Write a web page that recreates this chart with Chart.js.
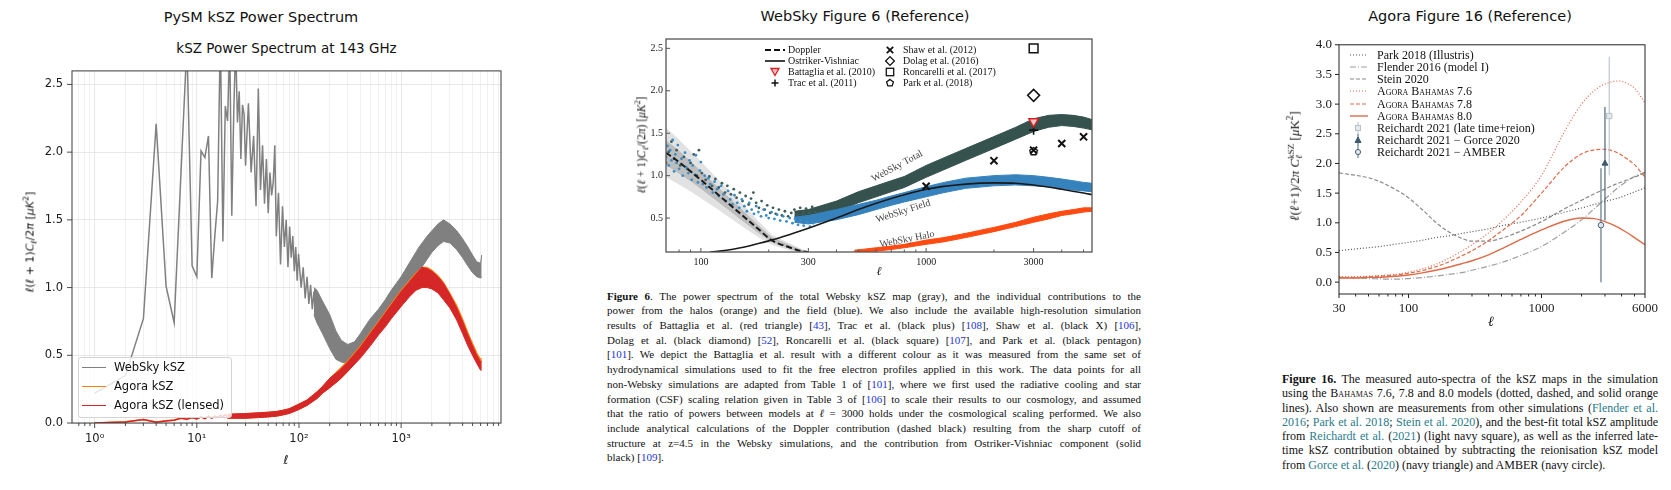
<!DOCTYPE html>
<html lang="en">
<head>
<meta charset="UTF-8" />
<title>kSZ power spectra</title>
<script src="https://cdn.jsdelivr.net/npm/chart.js"></script>
<style>
  body { margin: 0; width: 1671px; height: 490px; background: #fff; position: relative; overflow: hidden;
         font-family: "DejaVu Sans", sans-serif; color: #111; }
  .box { position: absolute; }
  .t { position: absolute; white-space: nowrap; line-height: 1; }
  .c { transform: translate(-50%, -50%); }
  .v { transform: translateY(-50%); }
  .rot { transform: translate(-50%, -50%) rotate(-90deg); }
  .serif { font-family: "Liberation Serif", serif; }
  .lg { position: absolute; border: 1px solid #d4d4d4; border-radius: 3px; background: rgba(255,255,255,0.8); }
  .sw { position: absolute; height: 0; }
  svg.m { position: absolute; overflow: visible; }
  .cap { position: absolute; font-family: "Liberation Serif", serif; color: #111; }
  .cap div { white-space: nowrap; }
  .cap6 a { color: #2233dd; text-decoration: none; }
  .cap16 a { color: #2a7b8b; text-decoration: none; }
  .sc { font-variant: small-caps; }
  sub, sup { font-size: 0.72em; line-height: 0; }
</style>
</head>
<body>

<!-- titles -->
<div class="t c" style="left:261px;top:17px;font-size:14.5px">PySM kSZ Power Spectrum</div>
<div class="t c" style="left:286.5px;top:49px;font-size:13.5px">kSZ Power Spectrum at 143 GHz</div>
<div class="t c" style="left:865px;top:16px;font-size:14.5px">WebSky Figure 6 (Reference)</div>
<div class="t c" style="left:1470px;top:16px;font-size:14.5px">Agora Figure 16 (Reference)</div>

<div class="box" style="left:0;top:55px;width:515px;height:420px"><canvas id="left"></canvas></div>
<div class="box" style="left:620px;top:30px;width:480px;height:250px"><canvas id="mid"></canvas></div>
<div class="box" style="left:1300px;top:30px;width:365px;height:290px"><canvas id="right"></canvas></div>

<!-- left axis labels -->
<div class="t c" style="left:286px;top:460px;font-size:12px"><i>ℓ</i></div>
<div class="t rot" style="left:30px;top:242px;font-size:11px"><i>ℓ</i>(<i>ℓ</i> + 1)<i>C</i><sub><i>ℓ</i></sub>/2<i>π</i> [<i>μK</i><sup>2</sup>]</div>

<!-- left legend -->
<div class="lg" style="left:78px;top:357px;width:152px;height:59px"></div>
<div class="sw" style="left:82px;top:366.5px;width:24px;border-top:1.5px solid #808080"></div>
<div class="sw" style="left:82px;top:386px;width:24px;border-top:1.5px solid #ff7f0e"></div>
<div class="sw" style="left:82px;top:404.5px;width:24px;border-top:1.5px solid #d62728"></div>
<div class="t v" style="left:114px;top:367.5px;font-size:11.5px">WebSky kSZ</div>
<div class="t v" style="left:114px;top:386.8px;font-size:11.5px">Agora kSZ</div>
<div class="t v" style="left:114px;top:405.5px;font-size:11.5px">Agora kSZ (lensed)</div>

<!-- middle axis labels and annotations -->
<div class="t c serif" style="left:879px;top:271px;font-size:12px"><i>ℓ</i></div>
<div class="t rot serif" style="left:642px;top:145px;font-size:11.5px"><i>ℓ</i>(<i>ℓ</i> + 1)<i>C</i><sub><i>ℓ</i></sub>/(2<i>π</i>) [<i>μK</i><sup>2</sup>]</div>
<div class="t serif" style="left:897px;top:166px;font-size:10px;color:#444;transform:translate(-50%,-50%) rotate(-28deg)">WebSky Total</div>
<div class="t serif" style="left:903px;top:211px;font-size:10px;color:#444;transform:translate(-50%,-50%) rotate(-18deg)">WebSky Field</div>
<div class="t serif" style="left:907px;top:238.5px;font-size:10px;color:#444;transform:translate(-50%,-50%) rotate(-11deg)">WebSky Halo</div>

<!-- middle legend -->
<svg class="m" style="left:765px;top:47px" width="20" height="6"><line x1="0" y1="3" x2="20" y2="3" stroke="#111" stroke-width="2" stroke-dasharray="6 3"/></svg>
<svg class="m" style="left:765px;top:58px" width="20" height="6"><line x1="0" y1="3" x2="20" y2="3" stroke="#111" stroke-width="1.6"/></svg>
<svg class="m" style="left:770px;top:67px" width="10" height="10"><polygon points="1,1.5 9,1.5 5,8.5" fill="#f4c4c4" stroke="#d62020" stroke-width="1.3"/></svg>
<svg class="m" style="left:770px;top:77.7px" width="10" height="10"><path d="M5 1.5V8.5M1.5 5H8.5" stroke="#111" stroke-width="1.5"/></svg>
<svg class="m" style="left:885px;top:45px" width="10" height="10"><path d="M1.8 1.8L8.2 8.2M8.2 1.8L1.8 8.2" stroke="#111" stroke-width="1.8"/></svg>
<svg class="m" style="left:885px;top:56px" width="10" height="10"><polygon points="5,0.6 9.4,5 5,9.4 0.6,5" fill="none" stroke="#111" stroke-width="1.3"/></svg>
<svg class="m" style="left:885px;top:67px" width="10" height="10"><rect x="1.3" y="1.3" width="7.4" height="7.4" fill="none" stroke="#111" stroke-width="1.3"/></svg>
<svg class="m" style="left:885px;top:77.7px" width="10" height="10"><polygon points="5,1.4 8.4,3.9 7.1,7.9 2.9,7.9 1.6,3.9" fill="none" stroke="#111" stroke-width="1.3"/></svg>
<div class="t v serif" style="left:788px;top:50px;font-size:10px">Doppler</div>
<div class="t v serif" style="left:788px;top:61px;font-size:10px">Ostriker-Vishniac</div>
<div class="t v serif" style="left:788px;top:72px;font-size:10px">Battaglia et al. (2010)</div>
<div class="t v serif" style="left:788px;top:82.7px;font-size:10px">Trac et al. (2011)</div>
<div class="t v serif" style="left:903px;top:50px;font-size:10px">Shaw et al. (2012)</div>
<div class="t v serif" style="left:903px;top:61px;font-size:10px">Dolag et al. (2016)</div>
<div class="t v serif" style="left:903px;top:72px;font-size:10px">Roncarelli et al. (2017)</div>
<div class="t v serif" style="left:903px;top:82.7px;font-size:10px">Park et al. (2018)</div>

<!-- right axis labels -->
<div class="t c serif" style="left:1491px;top:322px;font-size:14px"><i>ℓ</i></div>
<div class="t rot serif" style="left:1295px;top:166px;font-size:13px"><i>ℓ</i>(<i>ℓ</i>+1)/2<i>π</i> <i>C</i><span style="display:inline-block;vertical-align:-0.4em;line-height:0.9;font-size:0.7em"><span style="display:block">kSZ</span><span style="display:block"><i>ℓ</i></span></span> [<i>μ</i>K<sup>2</sup>]</div>

<!-- right legend -->
<svg class="m" style="left:1350px;top:52px" width="18" height="6"><line x1="0" y1="3" x2="18" y2="3" stroke="#555" stroke-width="1.2" stroke-dasharray="1 2"/></svg>
<svg class="m" style="left:1350px;top:64px" width="18" height="6"><line x1="0" y1="3" x2="18" y2="3" stroke="#9e9e9e" stroke-width="1.2" stroke-dasharray="6 2 1 2"/></svg>
<svg class="m" style="left:1350px;top:76.3px" width="18" height="6"><line x1="0" y1="3" x2="18" y2="3" stroke="#8a8a8a" stroke-width="1.2" stroke-dasharray="4 2"/></svg>
<svg class="m" style="left:1350px;top:88.3px" width="18" height="6"><line x1="0" y1="3" x2="18" y2="3" stroke="#de6a48" stroke-width="1.2" stroke-dasharray="1 2"/></svg>
<svg class="m" style="left:1350px;top:100.7px" width="18" height="6"><line x1="0" y1="3" x2="18" y2="3" stroke="#de6a48" stroke-width="1.2" stroke-dasharray="4 2"/></svg>
<svg class="m" style="left:1350px;top:113px" width="18" height="6"><line x1="0" y1="3" x2="18" y2="3" stroke="#de6a48" stroke-width="1.4"/></svg>
<svg class="m" style="left:1353px;top:122px" width="10" height="12"><line x1="5" y1="0" x2="5" y2="12" stroke="#b8c2ca" stroke-width="1"/><rect x="2.5" y="3.5" width="5" height="5" fill="#e4e9ec" stroke="#b8c2ca" stroke-width="1"/></svg>
<svg class="m" style="left:1353px;top:133.7px" width="10" height="12"><line x1="5" y1="0" x2="5" y2="12" stroke="#3f5a6e" stroke-width="1"/><polygon points="5,3 8,8.5 2,8.5" fill="#3f5a6e" stroke="#3f5a6e" stroke-width="1"/></svg>
<svg class="m" style="left:1353px;top:145.7px" width="10" height="12"><line x1="5" y1="0" x2="5" y2="12" stroke="#4e6878" stroke-width="1"/><circle cx="5" cy="6" r="2.6" fill="#dfe6ea" stroke="#4e6878" stroke-width="1"/></svg>
<div class="t v serif" style="left:1377px;top:55px;font-size:12px">Park 2018 (Illustris)</div>
<div class="t v serif" style="left:1377px;top:67px;font-size:12px">Flender 2016 (model I)</div>
<div class="t v serif" style="left:1377px;top:79.3px;font-size:12px">Stein 2020</div>
<div class="t v serif" style="left:1377px;top:91.3px;font-size:12px"><span class="sc">Agora Bahamas</span> 7.6</div>
<div class="t v serif" style="left:1377px;top:103.7px;font-size:12px"><span class="sc">Agora Bahamas</span> 7.8</div>
<div class="t v serif" style="left:1377px;top:116px;font-size:12px"><span class="sc">Agora Bahamas</span> 8.0</div>
<div class="t v serif" style="left:1377px;top:128px;font-size:12px">Reichardt 2021 (late time+reion)</div>
<div class="t v serif" style="left:1377px;top:139.7px;font-size:12px">Reichardt 2021 − Gorce 2020</div>
<div class="t v serif" style="left:1377px;top:151.7px;font-size:12px">Reichardt 2021 − AMBER</div>

<!-- captions -->
<div class="cap cap6" style="left:607px;top:288.6px;width:534px;font-size:11px;line-height:14.7px">
  <div class="j"><b>Figure 6</b>. The power spectrum of the total Websky kSZ map (gray), and the individual contributions to the</div>
  <div class="j">power from the halos (orange) and the field (blue). We also include the available high-resolution simulation</div>
  <div class="j">results of Battaglia et al. (red triangle) [<a>43</a>], Trac et al. (black plus) [<a>108</a>], Shaw et al. (black X) [<a>106</a>],</div>
  <div class="j">Dolag et al. (black diamond) [<a>52</a>], Roncarelli et al. (black square) [<a>107</a>], and Park et al. (black pentagon)</div>
  <div class="j">[<a>101</a>]. We depict the Battaglia et al. result with a different colour as it was measured from the same set of</div>
  <div class="j">hydrodynamical simulations used to fit the free electron profiles applied in this work. The data points for all</div>
  <div class="j">non-Websky simulations are adapted from Table 1 of [<a>101</a>], where we first used the radiative cooling and star</div>
  <div class="j">formation (CSF) scaling relation given in Table 3 of [<a>106</a>] to scale their results to our cosmology, and assumed</div>
  <div class="j">that the ratio of powers between models at <i>ℓ</i> = 3000 holds under the cosmological scaling performed. We also</div>
  <div class="j">include analytical calculations of the Doppler contribution (dashed black) resulting from the sharp cutoff of</div>
  <div class="j">structure at z=4.5 in the Websky simulations, and the contribution from Ostriker-Vishniac component (solid</div>
  <div>black) [<a>109</a>].</div>
</div>
<div class="cap cap16" style="left:1282px;top:372px;width:376px;font-size:12px;line-height:14.3px">
  <div class="j"><b>Figure 16.</b> The measured auto-spectra of the kSZ maps in the simulation</div>
  <div class="j">using the <span class="sc">Bahamas</span> 7.6, 7.8 and 8.0 models (dotted, dashed, and solid orange</div>
  <div class="j">lines). Also shown are measurements from other simulations (<a>Flender et al.</a></div>
  <div class="j"><a>2016</a>; <a>Park et al. 2018</a>; <a>Stein et al. 2020</a>), and the best-fit total kSZ amplitude</div>
  <div class="j">from <a>Reichardt et al.</a> (<a>2021</a>) (light navy square), as well as the inferred late-</div>
  <div class="j">time kSZ contribution obtained by subtracting the reionisation kSZ model</div>
  <div>from <a>Gorce et al.</a> (<a>2020</a>) (navy triangle) and AMBER (navy circle).</div>
</div>

<script>
// ---------------- PySM panel ----------------
const WEBSKY_LOW_ELL = [1, 2, 3, 4, 5, 6, 7, 8, 9, 10, 11, 12, 13, 14, 15, 16, 17, 18, 19, 20,
  21, 22, 23, 24, 25, 26, 27, 28, 29, 30, 32, 34, 36, 38, 40, 42, 44, 46, 48, 50, 52, 54, 56, 58, 60,
  63, 66, 69, 72, 75, 78, 81, 84, 87, 90, 93, 96, 99, 105, 110, 115, 120, 125, 130, 135, 140, 145, 150];
const WEBSKY_LOW = [0.22, 0.35, 0.77, 2.21, 1.01, 0.74, 1.85, 2.8, 1.16, 1.08, 2.01, 1.96, 2.12, 1.07, 1.38, 1.64, 2.9, 1.34, 2.34, 2.23,
  2.8, 1.53, 2.3, 2.8, 2.22, 2.45, 1.95, 2.35, 2.28, 1.9, 2.36, 1.85, 2.12, 1.6, 2.47, 1.72, 2.05, 1.62, 1.95, 1.55, 1.85, 1.68, 1.78, 2.05, 1.38,
  1.7, 1.17, 1.6, 1.3, 1.5, 1.15, 1.45, 1.22, 1.38, 1.12, 1.3, 1.05, 1.25, 1.0, 1.15, 0.92, 1.08, 0.88, 1.02, 0.84, 0.97, 0.8, 0.95];
const WEBSKY_BAND_ELL = [140, 150, 170, 200, 230, 260, 300, 350, 400, 450, 500, 600, 700, 800, 1000, 1200, 1500,
  1800, 2000, 2300, 2600, 3000, 3500, 4000, 4500, 5000, 5500, 6000, 6144];
const WEBSKY_BAND_LO = [0.8, 0.74, 0.66, 0.55, 0.47, 0.45, 0.44, 0.47, 0.52, 0.57, 0.62, 0.7, 0.76, 0.82, 0.92, 1.01, 1.12,
  1.21, 1.26, 1.31, 1.34, 1.33, 1.28, 1.22, 1.16, 1.11, 1.08, 1.07, 1.08];
const WEBSKY_BAND_HI = [1.0, 0.98, 0.9, 0.8, 0.68, 0.61, 0.58, 0.6, 0.66, 0.72, 0.77, 0.84, 0.91, 0.98, 1.08, 1.18, 1.3,
  1.38, 1.42, 1.47, 1.5, 1.47, 1.42, 1.36, 1.3, 1.24, 1.19, 1.18, 1.24];

const AGORA_LOW_ELL = [1, 2, 3, 4, 5, 6, 7, 8, 9, 10, 11, 12, 13, 14, 15, 16, 17, 18, 19, 20];
const AGORA_LOW = [0.0, 0.01, 0.026, 0.008, 0.016, 0.022, 0.036, 0.03, 0.041, 0.032, 0.046, 0.034, 0.051, 0.038, 0.051, 0.044, 0.056, 0.047, 0.061, 0.05];
const LENSED_LOW = [0.0, 0.008, 0.025, 0.006, 0.015, 0.02, 0.035, 0.028, 0.04, 0.03, 0.045, 0.032, 0.05, 0.036, 0.05, 0.042, 0.055, 0.045, 0.06, 0.048];
const AGORA_BAND_ELL = [20, 30, 40, 50, 60, 70, 80, 100, 120, 150, 170, 200, 250, 300, 400, 500, 600, 700, 800, 1000,
  1200, 1400, 1600, 1800, 2000, 2300, 2600, 3000, 3500, 4000, 4500, 5000, 5500, 6000, 6144];
const AGORA_BAND_LO = [0.035, 0.035, 0.04, 0.045, 0.05, 0.06, 0.07, 0.1, 0.13, 0.18, 0.22, 0.26, 0.32, 0.38, 0.49, 0.58, 0.66, 0.72, 0.78, 0.87,
  0.94, 0.99, 1.01, 1.01, 1.0, 0.97, 0.92, 0.86, 0.77, 0.67, 0.58, 0.51, 0.45, 0.4, 0.41];
const AGORA_BAND_HI = [0.065, 0.07, 0.075, 0.08, 0.085, 0.095, 0.105, 0.14, 0.17, 0.23, 0.27, 0.33, 0.4, 0.46, 0.57, 0.67, 0.75, 0.82, 0.88, 0.98,
  1.05, 1.11, 1.15, 1.15, 1.13, 1.09, 1.04, 0.96, 0.87, 0.77, 0.67, 0.59, 0.52, 0.47, 0.48];
const LENSED_BAND_LO = [0.035, 0.035, 0.04, 0.045, 0.05, 0.06, 0.07, 0.1, 0.13, 0.18, 0.22, 0.26, 0.32, 0.38, 0.48, 0.57, 0.65, 0.71, 0.77, 0.86,
  0.93, 0.98, 1.0, 1.0, 0.99, 0.96, 0.91, 0.85, 0.76, 0.66, 0.57, 0.5, 0.44, 0.39, 0.39];
const LENSED_BAND_HI = [0.065, 0.07, 0.075, 0.08, 0.085, 0.095, 0.105, 0.14, 0.17, 0.23, 0.27, 0.33, 0.39, 0.45, 0.56, 0.66, 0.74, 0.81, 0.87, 0.97,
  1.04, 1.1, 1.15, 1.14, 1.12, 1.08, 1.03, 0.95, 0.85, 0.75, 0.65, 0.57, 0.5, 0.45, 0.46];

const LEFT_X_MAJOR = [1, 10, 100, 1000];
const LEFT_X_LABELS = ['10⁰', '10¹', '10²', '10³'];
const LEFT_X_MINOR = [0.7, 0.8, 0.9, 2, 3, 4, 5, 6, 7, 8, 9, 20, 30, 40, 50, 60, 70, 80, 90,
  200, 300, 400, 500, 600, 700, 800, 900, 2000, 3000, 4000, 5000, 6000, 7000, 8000, 9000];
const LEFT_Y_TICKS = [0, 0.5, 1, 1.5, 2, 2.5];
const LEFT_Y_LABELS = ['0.0', '0.5', '1.0', '1.5', '2.0', '2.5'];

// ---------------- WebSky Figure 6 panel ----------------
const TOTAL_BAND_ELL = [260, 300, 400, 500, 600, 700, 800, 1000, 1200, 1500, 2000, 2500, 3000, 3500, 4000, 4500, 5000, 5450];
const TOTAL_LO = [0.51, 0.49, 0.57, 0.68, 0.75, 0.81, 0.86, 0.98, 1.07, 1.18, 1.32, 1.43, 1.52, 1.57, 1.59, 1.58, 1.56, 1.54];
const TOTAL_HI = [0.58, 0.6, 0.7, 0.81, 0.88, 0.94, 0.99, 1.12, 1.21, 1.32, 1.46, 1.57, 1.67, 1.71, 1.72, 1.71, 1.69, 1.66];
const FIELD_LO = [0.45, 0.43, 0.48, 0.54, 0.6, 0.65, 0.69, 0.75, 0.8, 0.85, 0.88, 0.89, 0.88, 0.87, 0.85, 0.83, 0.82, 0.81];
const FIELD_HI = [0.51, 0.53, 0.6, 0.66, 0.71, 0.76, 0.8, 0.87, 0.92, 0.97, 1.0, 1.01, 1.0, 0.98, 0.96, 0.94, 0.92, 0.91];
const HALO_ELL = [480, 600, 700, 800, 1000, 1200, 1500, 2000, 2500, 3000, 3500, 4000, 4500, 5000, 5450];
const HALO_LO = [0.1, 0.11, 0.13, 0.15, 0.19, 0.22, 0.27, 0.34, 0.4, 0.45, 0.49, 0.53, 0.55, 0.57, 0.58];
const HALO_HI = [0.12, 0.15, 0.17, 0.19, 0.24, 0.27, 0.32, 0.39, 0.45, 0.51, 0.55, 0.58, 0.6, 0.62, 0.62];

const FIELD_DOTS_ELL = [70, 71, 72, 73, 74, 75, 76, 77, 78, 79, 80, 82, 83, 85, 86, 88, 89, 91, 92, 94,
  95, 97, 99, 100, 102, 104, 106, 108, 110, 113, 115, 118, 120, 123, 126, 129, 132, 135, 138, 141,
  145, 148, 152, 156, 160, 164, 168, 172, 176, 180, 185, 190, 195, 200, 206, 212, 218, 225, 232, 240, 248,
  255, 262, 270, 278, 286, 295, 305, 315];
const FIELD_DOTS = [1.22, 1.35, 1.12, 1.3, 1.18, 1.42, 1.05, 1.25, 1.15, 1.36, 1.08, 1.2, 1.0, 1.27, 1.1, 1.03, 1.18, 0.95, 1.12, 1.01,
  1.24, 0.92, 1.06, 1.16, 0.9, 1.0, 0.86, 0.97, 0.9, 0.8, 0.93, 0.84, 0.76, 0.88, 0.78, 0.7, 0.82, 0.72, 0.66, 0.77,
  0.68, 0.62, 0.72, 0.64, 0.58, 0.68, 0.6, 0.55, 0.64, 0.57, 0.52, 0.6, 0.53, 0.5, 0.57, 0.49, 0.54, 0.47, 0.52, 0.46, 0.5,
  0.44, 0.49, 0.42, 0.47, 0.41, 0.45, 0.4, 0.44];
const TOTAL_DOTS_ELL = [70, 72, 74, 76, 78, 81, 84, 87, 90, 93, 96, 98, 101, 105, 109, 112, 116, 120, 124, 128,
  131, 136, 140, 144, 149, 153, 158, 163, 167, 171, 176, 181, 186, 192, 197, 203, 209, 215, 222, 229, 236, 244, 252,
  260, 268, 276, 284, 293, 302, 312, 322];
const TOTAL_DOTS = [1.15, 1.28, 1.4, 1.2, 1.3, 1.12, 1.22, 1.08, 1.15, 1.25, 1.0, 1.3, 1.03, 0.95, 0.99, 0.88, 0.96, 0.86, 0.91, 0.8,
  0.88, 0.78, 0.84, 0.74, 0.8, 0.7, 0.76, 0.66, 0.73, 0.8, 0.68, 0.62, 0.7, 0.6, 0.65, 0.56, 0.62, 0.55, 0.6, 0.53, 0.58, 0.52, 0.56,
  0.6, 0.54, 0.62, 0.55, 0.61, 0.56, 0.63, 0.57];

const DOPPLER_ELL = [70, 80, 90, 100, 120, 150, 180, 206, 250, 280, 300];
const DOPPLER = [1.27, 1.16, 1.05, 0.95, 0.77, 0.55, 0.37, 0.24, 0.15, 0.11, 0.1];
const DOPPLER_IN_LO = [1.13, 1.03, 0.94, 0.85, 0.69, 0.49, 0.33, 0.22, 0.14, 0.1, 0.1];
const DOPPLER_IN_HI = [1.41, 1.29, 1.16, 1.05, 0.85, 0.61, 0.41, 0.27, 0.17, 0.12, 0.1];
const DOPPLER_OUT_LO = [0.99, 0.9, 0.82, 0.74, 0.6, 0.42, 0.28, 0.19, 0.12, 0.1, 0.1];
const DOPPLER_OUT_HI = [1.56, 1.42, 1.28, 1.16, 0.94, 0.68, 0.46, 0.3, 0.19, 0.13, 0.1];
const OV_ELL = [110, 130, 150, 180, 206, 250, 300, 400, 500, 700, 1000, 1500, 2000, 2500, 3000, 4000, 5000, 5450];
const OV = [0.1, 0.12, 0.15, 0.2, 0.24, 0.31, 0.38, 0.5, 0.6, 0.73, 0.84, 0.9, 0.915, 0.91, 0.89, 0.84, 0.795, 0.775];

const SHAW_ELL = [1000, 2000, 3000, 4000, 5000];
const SHAW = [0.875, 1.176, 1.3, 1.379, 1.457];
const SIM_ELL = [3000];
const DOLAG = [1.946];
const RONCARELLI = [2.5];
const BATTAGLIA = [1.637];
const TRAC = [1.536];
const PARK = [1.285];

const MID_X_MAJOR = [100, 300, 1000, 3000];
const MID_X_LABELS = ['100', '300', '1000', '3000'];
const MID_X_MINOR = [80, 90, 200, 400, 500, 600, 700, 800, 900, 2000, 4000, 5000];
const MID_Y_TICKS = [0.5, 1, 1.5, 2, 2.5];
const MID_Y_LABELS = ['0.5', '1.0', '1.5', '2.0', '2.5'];

// ---------------- Agora Figure 16 panel ----------------
const RIGHT_ELL = [30, 40, 50, 60, 70, 80, 100, 130, 160, 200, 250, 300, 400, 500, 700, 1000, 1500, 2000, 2500, 3000, 3800, 4500, 5000, 6000];
const PARK_2018 = [0.53, 0.56, 0.58, 0.6, 0.62, 0.64, 0.67, 0.71, 0.75, 0.78, 0.82, 0.85, 0.9, 0.95, 1.01, 1.08, 1.18, 1.25, 1.31, 1.36, 1.42, 1.48, 1.52, 1.59];
const FLENDER_2016 = [0.08, 0.07, 0.06, 0.055, 0.05, 0.05, 0.06, 0.08, 0.1, 0.13, 0.16, 0.2, 0.27, 0.33, 0.45, 0.6, 0.85, 1.05, 1.24, 1.4, 1.6, 1.72, 1.78, 1.85];
const STEIN_2020 = [1.84, 1.8, 1.76, 1.7, 1.63, 1.56, 1.42, 1.2, 1.01, 0.85, 0.74, 0.69, 0.69, 0.74, 0.86, 1.02, 1.24, 1.38, 1.49, 1.57, 1.67, 1.73, 1.77, 1.84];
const BAHAMAS_76 = [0.09, 0.09, 0.1, 0.11, 0.12, 0.13, 0.17, 0.23, 0.3, 0.4, 0.52, 0.63, 0.83, 1.02, 1.35, 1.8, 2.55, 3.0, 3.23, 3.34, 3.39, 3.34, 3.27, 3.02];
const BAHAMAS_78 = [0.08, 0.08, 0.09, 0.1, 0.11, 0.12, 0.15, 0.2, 0.26, 0.34, 0.44, 0.53, 0.7, 0.86, 1.12, 1.5, 1.95, 2.16, 2.23, 2.24, 2.17, 2.06, 1.98, 1.77];
const BAHAMAS_80 = [0.07, 0.07, 0.08, 0.08, 0.09, 0.1, 0.12, 0.16, 0.2, 0.25, 0.31, 0.36, 0.46, 0.56, 0.72, 0.88, 1.03, 1.08, 1.07, 1.02, 0.92, 0.82, 0.75, 0.63];
// late time + reion, minus Gorce 2020, minus AMBER
const REICHARDT_ELL = [3230, 3000, 2800];
const REICHARDT = [2.8, 2.0, 0.96];
const REICHARDT_LO = [1.8, 1.04, 0.0];
const REICHARDT_HI = [3.8, 2.95, 1.92];

const RIGHT_X_MAJOR = [30, 100, 1000, 6000];
const RIGHT_X_LABELS = ['30', '100', '1000', '6000'];
const RIGHT_X_MINOR = [40, 50, 60, 70, 80, 90, 200, 300, 400, 500, 600, 700, 800, 900, 2000, 3000, 4000, 5000];
const RIGHT_Y_TICKS = [0, 0.5, 1, 1.5, 2, 2.5, 3, 3.5, 4];
const RIGHT_Y_LABELS = ['0.0', '0.5', '1.0', '1.5', '2.0', '2.5', '3.0', '3.5', '4.0'];

// ---------------- helpers ----------------
function pts(xs, ys) {
  return xs.map((x, i) => ({ x: x, y: ys[i] }));
}

function fixedTicks(major, minor) {
  const all = major.concat(minor || []).sort((a, b) => a - b);
  return (scale) => {
    scale.ticks = all.map((v) => ({ value: v, major: major.includes(v) }));
  };
}

function labelFrom(major, labels) {
  return (v) => {
    const i = major.indexOf(v);
    return i < 0 ? '' : labels[i];
  };
}

function line(xs, ys, color, extra) {
  return Object.assign({
    data: pts(xs, ys), borderColor: color, backgroundColor: color,
    borderWidth: 1.2, pointRadius: 0, fill: false,
  }, extra || {});
}

function band(xs, lo, hi, color) {
  return [
    line(xs, lo, color, { borderWidth: 1 }),
    line(xs, hi, color, { borderWidth: 1, fill: '-1' }),
  ];
}

function markers(xs, ys, style, radius, stroke, fill, width, extra) {
  return Object.assign({
    data: pts(xs, ys), showLine: false, pointStyle: style, pointRadius: radius,
    borderColor: stroke, pointBorderColor: stroke, pointBackgroundColor: fill,
    pointBorderWidth: width, borderWidth: width,
  }, extra || {});
}

function pentagon(size, color) {
  const c = document.createElement('canvas');
  c.width = c.height = size;
  const g = c.getContext('2d');
  g.strokeStyle = color;
  g.lineWidth = 1.4;
  g.beginPath();
  for (let k = 0; k < 5; k++) {
    const a = -Math.PI / 2 + (k * 2 * Math.PI) / 5;
    const r = size / 2 - 1.5;
    g.lineTo(size / 2 + r * Math.cos(a), size / 2 + r * Math.sin(a));
  }
  g.closePath();
  g.stroke();
  return c;
}

// tick marks (in or out, major/minor) and the box round the plot
const axisDecor = {
  id: 'axisDecor',
  afterDraw(chart, args, o) {
    const { ctx, chartArea: a } = chart;
    ctx.save();
    ctx.strokeStyle = o.color;
    for (const id of ['x', 'y']) {
      const t = o[id];
      if (!t) continue;
      const s = chart.scales[id];
      ctx.lineWidth = t.width;
      ctx.beginPath();
      for (const tick of s.ticks) {
        const len = tick.major ? t.major : t.minor;
        if (!len) continue;
        const p = s.getPixelForValue(tick.value);
        const d = t.inward ? -len : len;
        if (id === 'x') {
          ctx.moveTo(p, a.bottom);
          ctx.lineTo(p, a.bottom + d);
        } else {
          ctx.moveTo(a.left, p);
          ctx.lineTo(a.left - d, p);
        }
      }
      ctx.stroke();
    }
    ctx.lineWidth = o.frameWidth;
    ctx.strokeRect(a.left, a.top, a.right - a.left, a.bottom - a.top);
    ctx.restore();
  },
};

function axis(type, min, max, major, minor, labels, fit, font, padding, gridColor) {
  return {
    type: type, min: min, max: max,
    afterBuildTicks: fixedTicks(major, minor),
    afterFit: fit,
    ticks: {
      callback: labelFrom(major, labels), autoSkip: false, maxRotation: 0, minRotation: 0,
      padding: padding, color: '#1a1a1a', font: font,
    },
    grid: gridColor
      ? { drawTicks: false, lineWidth: 0.8, color: (c) => (c.tick && c.tick.major ? gridColor[0] : gridColor[1]) }
      : { display: false, drawTicks: false },
    border: { display: false },
  };
}

function makeChart(id, datasets, scales, padding, decor) {
  return new Chart(document.getElementById(id), {
    type: 'line',
    data: { datasets: datasets },
    options: {
      responsive: true, maintainAspectRatio: false, animation: false,
      layout: { padding: padding },
      plugins: { legend: { display: false }, tooltip: { enabled: false }, axisDecor: decor },
      scales: scales,
    },
    plugins: [axisDecor],
  });
}

// ---------------- left: PySM ----------------
const sansTick = { family: 'DejaVu Sans', size: 11.5 };
makeChart('left', [
  line(AGORA_LOW_ELL, LENSED_LOW, '#d62728', { borderWidth: 1.5 }),
  ...band(AGORA_BAND_ELL, LENSED_BAND_LO, LENSED_BAND_HI, '#d62728'),
  line(AGORA_LOW_ELL, AGORA_LOW, '#ff7f0e', { borderWidth: 1.5 }),
  ...band(AGORA_BAND_ELL, AGORA_BAND_LO, AGORA_BAND_HI, '#ff7f0e'),
  line(WEBSKY_LOW_ELL, WEBSKY_LOW, '#808080', { borderWidth: 1.5 }),
  ...band(WEBSKY_BAND_ELL, WEBSKY_BAND_LO, WEBSKY_BAND_HI, '#808080'),
], {
  x: axis('logarithmic', 0.645, 9500, LEFT_X_MAJOR, LEFT_X_MINOR, LEFT_X_LABELS,
    (s) => { s.height = 52; }, sansTick, 9, ['#e2e2e2', '#ededed']),
  y: axis('linear', 0, 2.6, LEFT_Y_TICKS, [], LEFT_Y_LABELS,
    (s) => { s.width = 72; }, sansTick, 9, ['#e2e2e2', '#e2e2e2']),
}, { left: 0, right: 14, top: 7, bottom: 0 }, {
  color: '#3a3a3a', frameWidth: 1,
  x: { major: 5, minor: 3, width: 0.9 },
  y: { major: 5, minor: 0, width: 0.9 },
});

// ---------------- middle: WebSky Figure 6 ----------------
const serifSmall = { family: 'Liberation Serif', size: 10 };
makeChart('mid', [
  markers(SIM_ELL, RONCARELLI, 'rect', 6.2, '#111', '#fff', 1.5),
  markers(SIM_ELL, DOLAG, 'rectRot', 6, '#111', '#fff', 1.5),
  markers(SIM_ELL, BATTAGLIA, 'triangle', 5.5, '#d62020', '#f4c4c4', 1.4, { pointRotation: 180 }),
  markers(SIM_ELL, TRAC, 'cross', 4.5, '#111', '#111', 1.6),
  markers(SIM_ELL, PARK, pentagon(11, '#111'), 5, '#111', '#fff', 1.4),
  markers(SHAW_ELL, SHAW, 'crossRot', 5, '#111', '#111', 2),
  line(DOPPLER_ELL, DOPPLER, '#1a1a1a', { borderWidth: 2, borderDash: [6, 3], cubicInterpolationMode: 'monotone' }),
  line(OV_ELL, OV, '#1a1a1a', { borderWidth: 1.6, cubicInterpolationMode: 'monotone' }),
  ...band(HALO_ELL, HALO_LO, HALO_HI, '#ff4b12'),
  markers(FIELD_DOTS_ELL, FIELD_DOTS, 'circle', 1.4, '#3b8cc6', '#3b8cc6', 0),
  markers(TOTAL_DOTS_ELL, TOTAL_DOTS, 'circle', 1.4, '#3c5d58', '#3c5d58', 0),
  ...band(TOTAL_BAND_ELL, FIELD_LO, FIELD_HI, '#3582bd'),
  ...band(TOTAL_BAND_ELL, TOTAL_LO, TOTAL_HI, '#35524e'),
  ...band(DOPPLER_ELL, DOPPLER_IN_LO, DOPPLER_IN_HI, '#bdbdbd'),
  ...band(DOPPLER_ELL, DOPPLER_OUT_LO, DOPPLER_OUT_HI, '#e2e2e2'),
], {
  x: axis('logarithmic', 70, 5450, MID_X_MAJOR, MID_X_MINOR, MID_X_LABELS,
    (s) => { s.height = 28; }, serifSmall, 4, null),
  y: axis('linear', 0.1, 2.61, MID_Y_TICKS, [], MID_Y_LABELS,
    (s) => { s.width = 46; }, serifSmall, 3, null),
}, { left: 0, right: 8, top: 7, bottom: 0 }, {
  color: '#555', frameWidth: 1.3,
  x: { major: 4, minor: 2.5, width: 1, inward: true },
  y: { major: 4, minor: 0, width: 1, inward: true },
});

// ---------------- right: Agora Figure 16 ----------------
const serifTick = { family: 'Liberation Serif', size: 13 };
const bahamas = '#de6a48';
makeChart('right', [
  markers([REICHARDT_ELL[0]], [REICHARDT[0]], 'rect', 3.8, '#b8c2ca', '#e4e9ec', 1),
  markers([REICHARDT_ELL[1]], [REICHARDT[1]], 'triangle', 3.4, '#3f5a6e', '#3f5a6e', 1),
  markers([REICHARDT_ELL[2]], [REICHARDT[2]], 'circle', 2.8, '#4e6878', '#dfe6ea', 1),
  line([REICHARDT_ELL[0], REICHARDT_ELL[0]], [REICHARDT_LO[0], REICHARDT_HI[0]], '#b8c2ca', { borderWidth: 1.1 }),
  line([REICHARDT_ELL[1], REICHARDT_ELL[1]], [REICHARDT_LO[1], REICHARDT_HI[1]], '#3f5a6e', { borderWidth: 1.1 }),
  line([REICHARDT_ELL[2], REICHARDT_ELL[2]], [REICHARDT_LO[2], REICHARDT_HI[2]], '#4e6878', { borderWidth: 1.1 }),
  line(RIGHT_ELL, BAHAMAS_80, bahamas, { borderWidth: 1.4, cubicInterpolationMode: 'monotone' }),
  line(RIGHT_ELL, BAHAMAS_78, bahamas, { borderDash: [4, 2], cubicInterpolationMode: 'monotone' }),
  line(RIGHT_ELL, BAHAMAS_76, bahamas, { borderDash: [1, 2], cubicInterpolationMode: 'monotone' }),
  line(RIGHT_ELL, STEIN_2020, '#8a8a8a', { borderDash: [4, 2], cubicInterpolationMode: 'monotone' }),
  line(RIGHT_ELL, FLENDER_2016, '#9e9e9e', { borderDash: [6, 2, 1, 2], cubicInterpolationMode: 'monotone' }),
  line(RIGHT_ELL, PARK_2018, '#555', { borderDash: [1, 2], cubicInterpolationMode: 'monotone' }),
], {
  x: axis('logarithmic', 30, 6000, RIGHT_X_MAJOR, RIGHT_X_MINOR, RIGHT_X_LABELS,
    (s) => { s.height = 26; }, serifTick, 7, null),
  y: axis('linear', -0.2, 4.0, RIGHT_Y_TICKS, [], RIGHT_Y_LABELS,
    (s) => { s.width = 39; }, serifTick, 7, null),
}, { left: 0, right: 20, top: 8, bottom: 0 }, {
  color: '#222', frameWidth: 1,
  x: { major: 4, minor: 2.5, width: 1 },
  y: { major: 4, minor: 0, width: 1 },
});

// stretch caption lines to the full column width, like the justified paper text
for (const ln of document.querySelectorAll('.cap .j')) {
  const r = document.createRange();
  r.selectNodeContents(ln);
  const natural = r.getBoundingClientRect().width;
  const gaps = (ln.textContent.trim().match(/\s+/g) || []).length;
  if (gaps) ln.style.wordSpacing = (ln.clientWidth - natural) / gaps + 'px';
}
</script>
</body>
</html>
